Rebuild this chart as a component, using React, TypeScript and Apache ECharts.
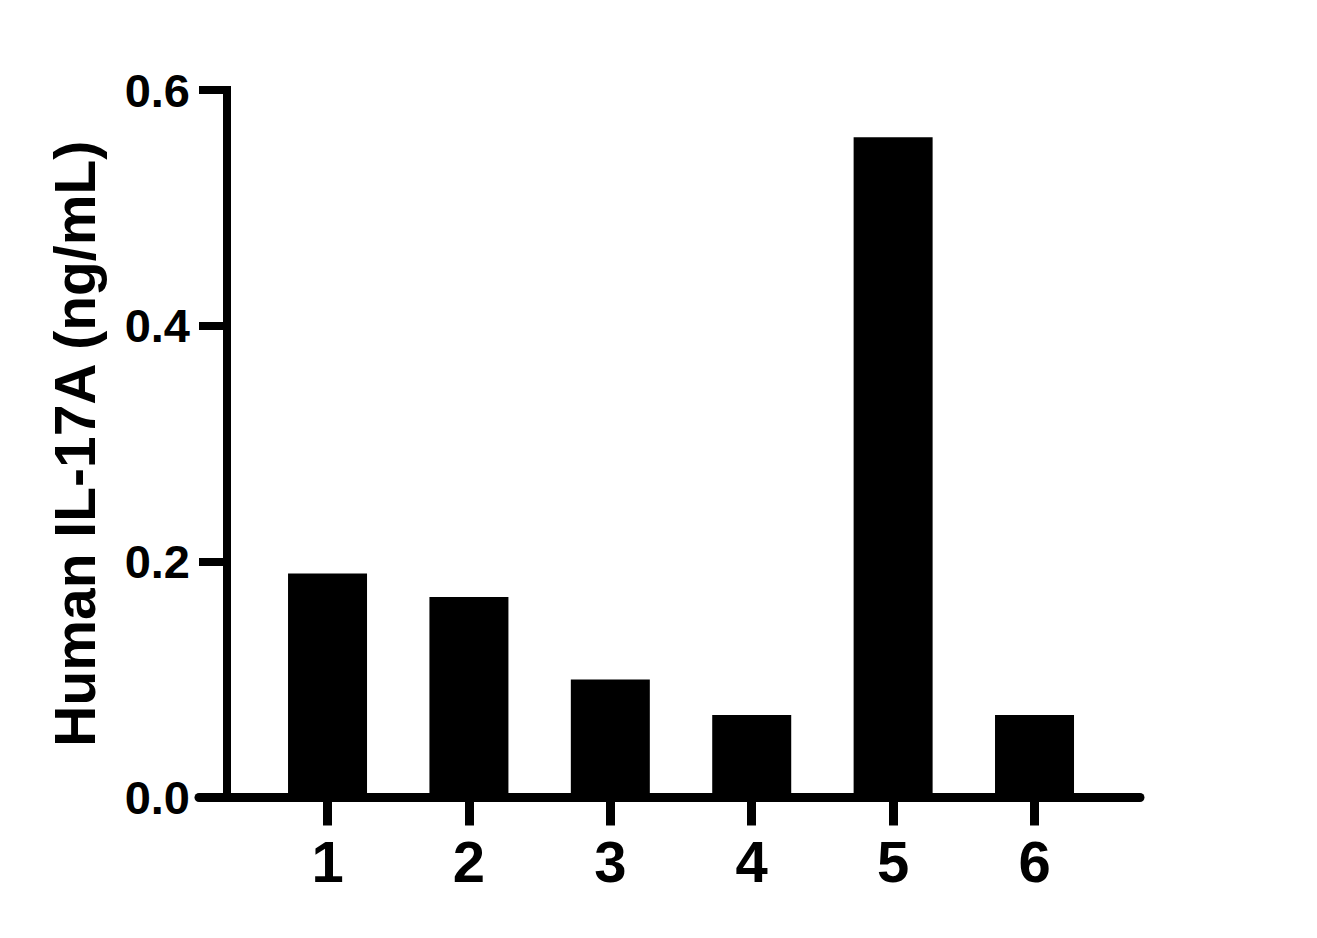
import React, { useEffect, useRef } from 'react';
import * as echarts from 'echarts';

const samples: number[] = [1, 2, 3, 4, 5, 6];
const il17a: number[] = [0.19, 0.17, 0.10, 0.07, 0.56, 0.07];
const yTicks: number[] = [0, 0.2, 0.4, 0.6];

const FONT = '"Liberation Sans", Arial, Helvetica, sans-serif';

const App: React.FC = () => {
  const chartRef = useRef<HTMLDivElement | null>(null);

  useEffect(() => {
    document.body.style.margin = '0';
    const chart = echarts.init(chartRef.current!, undefined, { renderer: 'svg' });

    const option = {
      animation: false,
      backgroundColor: '#ffffff',
      grid: {
        left: 199,
        right: 177,
        top: 90,
        bottom: 140.5,
        containLabel: false
      },
      xAxis: {
        type: 'value',
        min: 0.091,
        max: 6.746,
        splitLine: { show: false },
        axisLine: {
          show: true,
          onZero: false,
          lineStyle: { color: '#000', width: 9 }
        },
        axisTick: {
          show: true,
          length: 28,
          customValues: samples,
          lineStyle: { color: '#000', width: 9 }
        },
        axisLabel: {
          show: true,
          customValues: samples,
          margin: 35,
          color: '#000',
          fontSize: 58,
          fontWeight: 'bold',
          fontFamily: FONT
        }
      },
      yAxis: {
        type: 'value',
        min: yTicks[0],
        max: yTicks[yTicks.length - 1],
        interval: 0.2,
        offset: -28,
        name: 'Human IL-17A (ng/mL)',
        nameLocation: 'middle',
        nameGap: 124,
        nameTextStyle: {
          color: '#000',
          fontSize: 57,
          fontWeight: 'bold',
          fontFamily: FONT
        },
        splitLine: { show: false },
        axisLine: {
          show: true,
          onZero: false,
          lineStyle: { color: '#000', width: 8, cap: 'square' }
        },
        axisTick: {
          show: true,
          length: 28,
          lineStyle: { color: '#000', width: 8 }
        },
        axisLabel: {
          margin: 37,
          color: '#000',
          fontSize: 47,
          fontWeight: 'bold',
          fontFamily: FONT,
          formatter: (v: number) => v.toFixed(1)
        }
      },
      series: [
        {
          type: 'bar',
          barWidth: 79,
          itemStyle: { color: '#000' },
          data: samples.map((s, i) => [s, il17a[i]]),
          z: 1
        }
      ]
    };

    chart.setOption(option);
    return () => {
      chart.dispose();
    };
  }, []);

  return (
    <div
      ref={chartRef}
      style={{ position: 'fixed', left: 0, top: 0, width: '1317px', height: '938px' }}
    />
  );
};

export default App;
